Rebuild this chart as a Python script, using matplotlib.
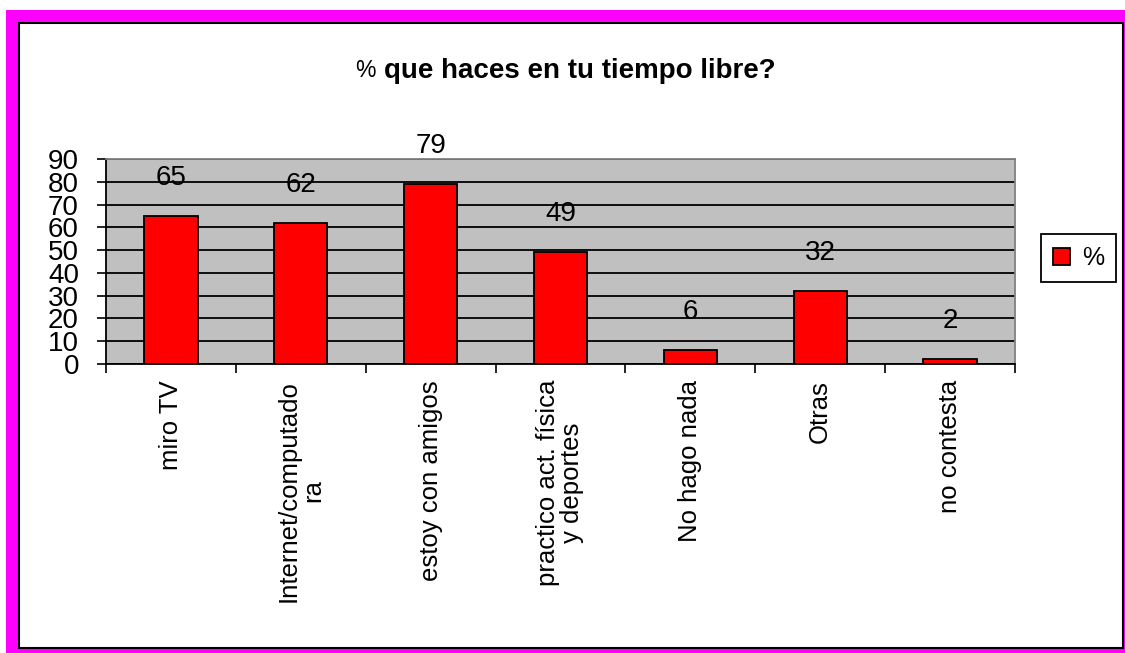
import matplotlib
matplotlib.use('Agg')
import matplotlib.pyplot as plt
from matplotlib.patches import Rectangle

# ---- data ----
categories = ["miro TV", "Internet/computado\nra", "estoy con amigos",
              "practico act. física\ny deportes", "No hago nada", "Otras", "no contesta"]
values = [65, 62, 79, 49, 6, 32, 2]
yticks = [0, 10, 20, 30, 40, 50, 60, 70, 80, 90]
title_pct = "%"
title_rest = "que haces en tu tiempo libre?"
series_name = "%"

plt.rcParams['font.family'] = ['Liberation Sans', 'DejaVu Sans']

W, H = 1125, 653
fig = plt.figure(figsize=(W / 100, H / 100), dpi=100)
fig.patch.set_facecolor('white')


def fx(x):
    return x / W


def fy(y):
    return 1 - y / H


# magenta border and inner framed panel (behind the axes)
fig.patches.append(Rectangle((fx(6), 0), 1 - fx(6), fy(10), transform=fig.transFigure,
                             facecolor='#FF00FF', edgecolor='none', zorder=-2))
fig.patches.append(Rectangle((fx(19), fy(648)), fx(1123) - fx(19), fy(23) - fy(648),
                             transform=fig.transFigure, facecolor='white',
                             edgecolor='black', lw=1.5, zorder=-1))

ax = fig.add_axes([fx(106), fy(364), fx(1015) - fx(106), fy(159) - fy(364)])
ax.set_zorder(1)
ax.set_facecolor('#C0C0C0')

xpos = list(range(len(categories)))
bars = ax.bar(xpos, values, width=0.41, color='#FF0000', edgecolor='black',
              lw=1.3, label=series_name, zorder=3)
ax.set_xlim(-0.5, len(categories) - 0.5)
ax.set_ylim(yticks[0], yticks[-1])
ax.set_yticks(yticks)
ax.yaxis.grid(True, color='black', lw=1.3)
ax.set_axisbelow(True)

# x: ticks at category boundaries, labels at centres
ax.set_xticks([i - 0.5 for i in range(len(categories) + 1)])
ax.set_xticklabels([])
ax.set_xticks(xpos, minor=True)
ax.set_xticklabels(categories, minor=True, rotation=90, fontsize=18.5,
                   multialignment='center', linespacing=1.0)
ax.tick_params(axis='x', which='major', direction='out', length=6.5, width=1.2, color='black')
ax.tick_params(axis='x', which='minor', length=0, pad=11.5)
ax.tick_params(axis='y', direction='out', length=6.5, width=1.2, color='black',
               labelsize=20, pad=13)

for s in ['left', 'bottom']:
    ax.spines[s].set_color('black')
    ax.spines[s].set_linewidth(1.3)
for s in ['top', 'right']:
    ax.spines[s].set_color('#808080')
    ax.spines[s].set_linewidth(1.3)

ax.bar_label(bars, padding=18, fontsize=20)

# title
fig.text(fx(355), fy(77), title_pct, fontsize=16.5, ha='left', va='baseline')
fig.text(fx(384), fy(78), title_rest, fontsize=20, fontweight='bold', ha='left', va='baseline')

# legend
leg = fig.legend(handles=[bars], labels=[series_name], loc='upper left',
                 bbox_to_anchor=(fx(1041), fy(234)), borderaxespad=0,
                 frameon=True, fancybox=False, edgecolor='black', framealpha=1,
                 fontsize=18, handlelength=0.68, handleheight=0.68,
                 handletextpad=0.48, borderpad=0.48)
leg.get_frame().set_linewidth(1.3)
leg.set_zorder(2)

fig.savefig('out.png', dpi=100, facecolor=fig.get_facecolor())
